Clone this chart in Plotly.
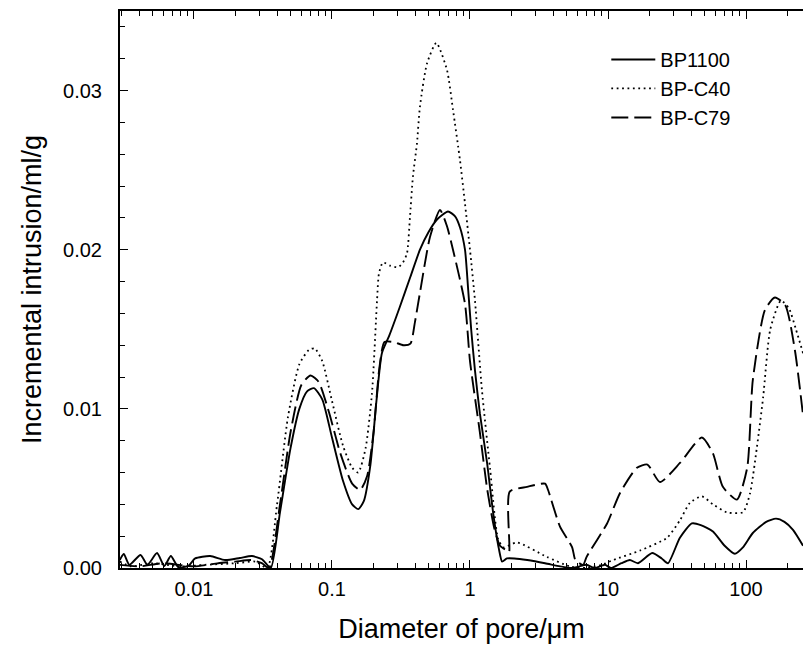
import plotly.graph_objects as go

# ---------------- data (diameter in µm, incremental intrusion in ml/g) ----------------
bp1100_d = [0.0029, 0.0031, 0.0034, 0.0041, 0.0046, 0.0054, 0.0061, 0.0068, 0.0077, 0.0091,
            0.0102, 0.0131, 0.0168, 0.0215, 0.0263, 0.0311, 0.036,
            0.042, 0.05, 0.058, 0.066, 0.074, 0.085, 0.10, 0.12, 0.14, 0.155, 0.17, 0.19,
            0.21, 0.23, 0.26, 0.31, 0.37, 0.434, 0.50, 0.577, 0.693, 0.78, 0.847, 0.92,
            0.97, 1.02, 1.087, 1.18, 1.33, 1.47, 1.62, 1.71, 1.85, 2.1, 2.6, 3.5, 4.5, 5.5,
            6.2, 7.0, 8.0, 9.5, 10.5, 12.5, 14.4, 16.5, 20.9, 24.5, 27.2, 33.2, 40.5, 47.0,
            57.6, 70.0, 83.0, 95.0, 112.0, 140.0, 165.0, 190.0, 219.0, 259.0]
bp1100_v = [0.0005, 0.00088, 0.0002, 0.00082, 0.0002, 0.00094, 0.00013, 0.00075, 0.00006, 0.00013,
            0.0006, 0.00075, 0.0005, 0.00063, 0.00075, 0.00055, 0.0,
            0.0035, 0.0075, 0.0100, 0.0111, 0.0113, 0.0106, 0.0082, 0.0055, 0.0040, 0.0037, 0.0042, 0.0065,
            0.0105, 0.0135, 0.0146, 0.0164, 0.0183, 0.0200, 0.0211, 0.0219, 0.0224, 0.0221, 0.0214, 0.0200,
            0.0175, 0.0150, 0.0124, 0.0097, 0.0066, 0.0035, 0.0012, 0.0004, 0.0006, 0.0006, 0.0005, 0.0003, 0.0001, 0.0,
            0.0001, 0.0002, 0.0, 0.0002, 0.0, 0.0003, 0.0005, 0.0003, 0.00094, 0.0006, 0.0003, 0.0019, 0.0028, 0.0027,
            0.0023, 0.0014, 0.0009, 0.0013, 0.0022, 0.0029, 0.0031, 0.0029, 0.0024, 0.0014]

bpc40_d = [0.0029, 0.0035, 0.005, 0.008, 0.012, 0.02, 0.028, 0.034,
           0.040, 0.048, 0.058, 0.068, 0.075, 0.085, 0.10, 0.12, 0.14, 0.155, 0.175, 0.195,
           0.212, 0.219, 0.234, 0.263, 0.301, 0.327, 0.35, 0.367, 0.386, 0.413, 0.434, 0.488,
           0.57, 0.681, 0.753, 0.847, 0.92, 1.0, 1.087, 1.22, 1.40, 1.60, 1.75, 2.19, 3.6,
           5.3, 7.0, 9.0, 10.9, 17.1, 26.8, 33.2, 39.3, 47.9, 57.6, 72.7, 95.0, 107.0, 120.0,
           133.0, 150.0, 179.0, 205.0, 230.0, 259.0]
bpc40_v = [0.0004, 0.0001, 0.0003, 0.0001, 0.0002, 0.0003, 0.0004, 0.0,
           0.0040, 0.0095, 0.0128, 0.0137, 0.0138, 0.0130, 0.0105, 0.0077, 0.0063, 0.0060, 0.0075, 0.0110,
           0.0168, 0.0185, 0.0192, 0.0190, 0.0189, 0.0192, 0.0198, 0.0220, 0.0246, 0.0267, 0.0290, 0.0317,
           0.0330, 0.0313, 0.0288, 0.0256, 0.0229, 0.0200, 0.0168, 0.0112, 0.0062, 0.0018, 0.0013, 0.0016, 0.0007,
           0.0001, 0.0, 0.0002, 0.0005, 0.0011, 0.0019, 0.0030, 0.0041, 0.0045, 0.0040, 0.0035, 0.0035, 0.0047, 0.0076,
           0.0107, 0.0150, 0.0168, 0.0163, 0.0150, 0.0135]

bpc79_d = [0.0029, 0.004, 0.006, 0.010, 0.015, 0.020, 0.026, 0.031, 0.035,
           0.042, 0.050, 0.060, 0.070, 0.080, 0.095, 0.115, 0.14, 0.16, 0.18, 0.20, 0.22,
           0.24, 0.28, 0.33, 0.37, 0.40, 0.434, 0.513, 0.606, 0.68, 0.753, 0.92, 1.0, 1.18,
           1.33, 1.5, 1.65, 1.85, 1.92, 1.94, 2.59, 3.5, 3.68, 4.49, 5.5, 5.8, 6.6, 7.0,
           9.85, 12.2, 16.2, 19.3, 23.8, 33.2, 47.9, 57.6, 68.0, 86.0, 102.0, 112.0, 137.0,
           162.0, 193.0, 226.0, 259.0]
bpc79_v = [0.0002, 0.0001, 0.0003, 0.0001, 0.0003, 0.0004, 0.0005, 0.0003, 0.0,
           0.0040, 0.0085, 0.0115, 0.0121, 0.0117, 0.0098, 0.0072, 0.0053, 0.0049, 0.0058, 0.0085, 0.0125,
           0.0142, 0.0142, 0.0140, 0.0141, 0.0155, 0.0173, 0.0208, 0.0225, 0.0215, 0.0200, 0.0166, 0.0130, 0.0085,
           0.0050, 0.0025, 0.0014, 0.0011, 0.0010, 0.0048, 0.0051, 0.0053, 0.0049, 0.0026, 0.0013, 0.0005, 0.0002, 0.0007,
           0.0028, 0.0047, 0.0063, 0.0065, 0.0054, 0.0066, 0.0082, 0.0072, 0.0051, 0.0043, 0.0063, 0.0118, 0.0162,
           0.0170, 0.0165, 0.0137, 0.0096]

series_names = ["BP1100", "BP-C40", "BP-C79"]

x_tickvals = [0.01, 0.1, 1, 10, 100]
x_ticktext = ["0.01", "0.1", "1", "10", "100"]
y_tickvals = [0.0, 0.01, 0.02, 0.03]
y_ticktext = ["0.00", "0.01", "0.02", "0.03"]

FONT = "Liberation Sans, Arial, Helvetica, sans-serif"

fig = go.Figure()
fig.add_trace(go.Scatter(x=bp1100_d, y=bp1100_v, mode="lines", name=series_names[0],
                         line=dict(color="black", width=1.9, shape="spline", smoothing=0.6)))
fig.add_trace(go.Scatter(x=bpc40_d, y=bpc40_v, mode="lines", name=series_names[1],
                         line=dict(color="black", width=1.8, dash="1.8px,3.6px", shape="spline", smoothing=0.6)))
fig.add_trace(go.Scatter(x=bpc79_d, y=bpc79_v, mode="lines", name=series_names[2],
                         line=dict(color="black", width=1.9, dash="17px,6px", shape="spline", smoothing=0.6)))

minor_x = [m * 10.0 ** e for e in range(-3, 3) for m in range(2, 10)]

fig.update_xaxes(type="log", range=[-2.536, 2.413],
                 tickvals=x_tickvals, ticktext=x_ticktext,
                 ticks="inside", ticklen=8, tickwidth=1.3, tickcolor="black",
                 showline=True, linecolor="black", linewidth=2, mirror="ticks",
                 showgrid=False, zeroline=False,
                 minor=dict(tickvals=minor_x, ticks="inside", ticklen=5, tickwidth=1.1, tickcolor="black", showgrid=False),
                 tickfont=dict(family=FONT, size=20, color="black"),
                 ticklabelstandoff=2,
                 title=dict(text="Diameter of pore/μm", font=dict(family=FONT, size=27, color="black"), standoff=20))
fig.update_yaxes(range=[0, 0.035],
                 tickvals=y_tickvals, ticktext=y_ticktext,
                 ticks="inside", ticklen=8, tickwidth=1.3, tickcolor="black",
                 showline=True, linecolor="black", linewidth=2, mirror=False,
                 showgrid=False, zeroline=False,
                 minor=dict(dtick=0.002, ticks="inside", ticklen=5, tickwidth=1.1, tickcolor="black", showgrid=False),
                 tickfont=dict(family=FONT, size=20, color="black"),
                 ticklabelstandoff=12,
                 title=dict(text="Incremental intrusion/ml/g", font=dict(family=FONT, size=27, color="black"), standoff=14))

fig.update_layout(width=803, height=650,
                  margin=dict(l=120, r=0, t=11, b=82),
                  paper_bgcolor="white", plot_bgcolor="white",
                  font=dict(family=FONT, color="black"),
                  legend=dict(x=0.712, y=0.948, xanchor="left", yanchor="top",
                              bgcolor="rgba(0,0,0,0)", borderwidth=0,
                              font=dict(family=FONT, size=20, color="black"),
                              itemwidth=44, tracegroupgap=0))

fig.write_html("out.html")
